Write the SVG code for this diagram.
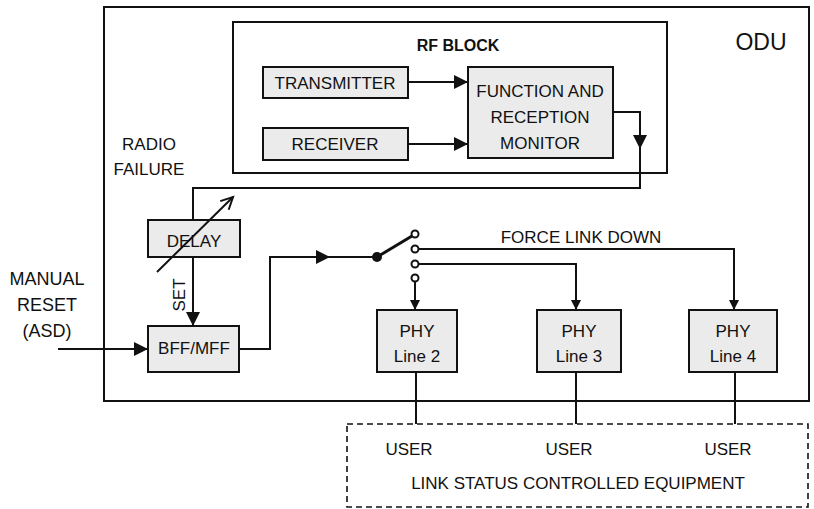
<svg xmlns="http://www.w3.org/2000/svg" width="814" height="509" viewBox="0 0 814 509">
<style>
text{font-family:"Liberation Sans",Arial,sans-serif;font-size:17px;fill:#111;text-anchor:middle}
.b{font-weight:bold;font-size:16px}
.box{fill:#ebebeb;stroke:#111;stroke-width:2}
.frame{fill:none;stroke:#111;stroke-width:2}
.ln{fill:none;stroke:#111;stroke-width:2}
.term{fill:#fff;stroke:#111;stroke-width:2}
</style>
<defs>
<marker id="ab" markerUnits="userSpaceOnUse" markerWidth="15" markerHeight="15" refX="14" refY="7" orient="auto"><path d="M0,0 L14,7 L0,14 z" fill="#111"/></marker>
<marker id="as" markerUnits="userSpaceOnUse" markerWidth="11" markerHeight="11" refX="10" refY="5" orient="auto"><path d="M0,0 L10,5 L0,10 z" fill="#111"/></marker>
<marker id="ao" markerUnits="userSpaceOnUse" markerWidth="16" markerHeight="16" refX="13" refY="7" orient="auto"><path d="M1,1 L13,7 L1,13" fill="none" stroke="#111" stroke-width="2"/></marker>
</defs>
<g id="odu"><rect class="frame" x="104" y="7" width="705" height="394"/><text x="761" y="50" style="font-size:23px">ODU</text></g>
<g id="rfblock"><rect class="frame" x="233" y="22" width="434" height="151"/><text class="b" x="458" y="51">RF BLOCK</text></g>
<g id="transmitter"><rect class="box" x="263" y="67" width="145" height="31"/><text x="335" y="89">TRANSMITTER</text></g>
<g id="receiver"><rect class="box" x="263" y="128" width="145" height="32"/><text x="335" y="150">RECEIVER</text></g>
<g id="monitor"><rect class="box" x="468" y="67" width="145" height="91"/><text x="540" y="97">FUNCTION AND</text><text x="540" y="123">RECEPTION</text><text x="540" y="149">MONITOR</text></g>
<g id="delay"><rect class="box" x="148" y="220" width="92" height="37"/><text x="194" y="247">DELAY</text></g>
<g id="bff"><rect class="box" x="148" y="326" width="91" height="46"/><text x="194" y="354">BFF/MFF</text></g>
<g id="phy2"><rect class="box" x="377" y="310" width="80" height="62"/><text x="417" y="337">PHY</text><text x="417" y="362">Line 2</text></g>
<g id="phy3"><rect class="box" x="537" y="310" width="84" height="62"/><text x="579" y="337">PHY</text><text x="579" y="362">Line 3</text></g>
<g id="phy4"><rect class="box" x="689" y="310" width="88" height="62"/><text x="733" y="337">PHY</text><text x="733" y="362">Line 4</text></g>
<g id="equipment"><rect x="347" y="424" width="461" height="83" fill="none" stroke="#111" stroke-width="1.6" stroke-dasharray="6,4"/><text x="409" y="455">USER</text><text x="569" y="455">USER</text><text x="728" y="455">USER</text><text x="578" y="489">LINK STATUS CONTROLLED EQUIPMENT</text></g>
<g id="labels">
<text x="149" y="150">RADIO</text><text x="149" y="175">FAILURE</text>
<text x="47" y="285" style="font-size:18px">MANUAL</text><text x="47" y="311" style="font-size:18px">RESET</text><text x="47" y="337" style="font-size:18px">(ASD)</text>
<text x="581" y="243">FORCE LINK DOWN</text>
<text transform="translate(185,295) rotate(-90)">SET</text>
</g>
<g id="connectors">
<path class="ln" d="M408,82 H468" marker-end="url(#ab)"/>
<path class="ln" d="M408,144 H468" marker-end="url(#ab)"/>
<path class="ln" d="M613,112 H640 V149" marker-end="url(#ab)"/>
<path class="ln" d="M640,148 V188 H193 V220"/>
<path class="ln" d="M157,272 L233,197" marker-end="url(#ao)"/>
<path class="ln" d="M193,257 V326" marker-end="url(#ab)"/>
<path class="ln" d="M58,349 H148" marker-end="url(#ab)"/>
<path class="ln" d="M239,349 H270 V257 H330" marker-end="url(#ab)"/>
<path class="ln" d="M329,257 H377"/>
<path d="M377,257 L412,236" stroke="#111" stroke-width="3"/>
<circle cx="377" cy="257" r="5" fill="#111"/>
<path class="ln" d="M419,249 H734 V310" marker-end="url(#as)"/>
<path class="ln" d="M419,264 H576 V310" marker-end="url(#as)"/>
<path class="ln" d="M415,282 V310" marker-end="url(#as)"/>
<circle class="term" cx="415" cy="234" r="3.5"/>
<circle class="term" cx="415" cy="249" r="3.5"/>
<circle class="term" cx="415" cy="264" r="3.5"/>
<circle class="term" cx="415" cy="278" r="3.5"/>
<path class="ln" d="M416,372 V424 M576,372 V424 M735,372 V424"/>
</g>
</svg>
